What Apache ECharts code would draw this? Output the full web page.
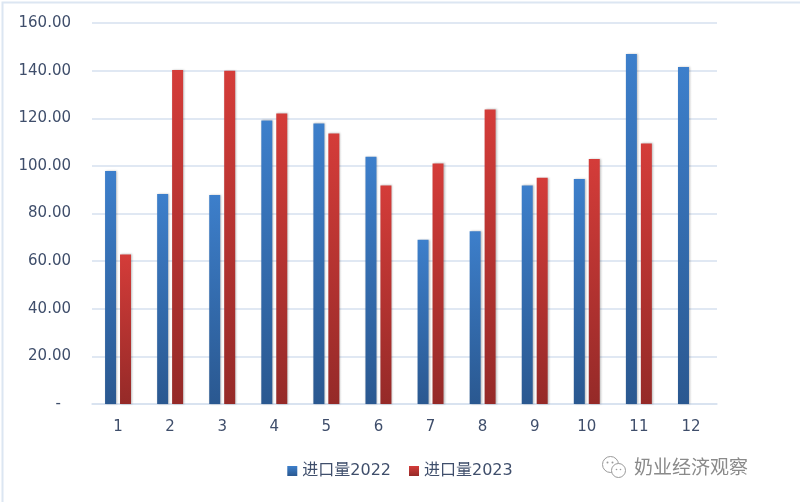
<!DOCTYPE html>
<html>
<head>
<meta charset="utf-8">
<script src="https://cdn.jsdelivr.net/npm/echarts@6/dist/echarts.min.js"></script>
<style>
  html, body { margin: 0; padding: 0; background: #fff; }
  #chart { width: 800px; height: 502px; }
</style>
</head>
<body>
<div id="chart"></div>
<script>
// 月份
var months = ['1', '2', '3', '4', '5', '6', '7', '8', '9', '10', '11', '12']
// 进口量
var import2022 = [97.8, 88.2, 87.8, 119.1, 117.8, 103.8, 69.0, 72.5, 91.8, 94.5, 147.0, 141.5]
var import2023 = [62.8, 140.3, 139.9, 122.0, 113.6, 91.8, 101.0, 123.7, 95.0, 102.9, 109.4, null]
var seriesNames = ['进口量2022', '进口量2023']

var labelColor = '#3F4E6B'
var splitLineColor = '#D6E1EF'
var numFont = 'DejaVu Sans'

function barGradient(top, bottom) {
  return new echarts.graphic.LinearGradient(0, 0, 0, 1, [
    { offset: 0, color: top },
    { offset: 1, color: bottom }
  ])
}

var myChart = echarts.init(document.getElementById('chart'), null, { renderer: 'canvas' })

var option = {
  backgroundColor: '#fff',
  animation: false,
  grid: {
    left: 92,
    right: 83,
    top: 23,
    bottom: 98
  },
  legend: {
    left: 'center',
    top: 458,
    icon: 'rect',
    itemWidth: 10,
    itemHeight: 10,
    itemGap: 18,
    textStyle: {
      color: labelColor,
      fontSize: 16,
      fontFamily: 'DejaVu Sans, Noto Sans CJK SC'
    },
    data: seriesNames
  },
  xAxis: {
    type: 'category',
    data: months,
    axisTick: { show: false },
    axisLine: { lineStyle: { color: splitLineColor, width: 1.5 } },
    axisLabel: {
      color: labelColor,
      fontSize: 15,
      fontFamily: numFont,
      margin: 16
    }
  },
  yAxis: {
    type: 'value',
    min: 0,
    max: 160,
    interval: 20,
    axisLine: { show: false },
    axisTick: { show: false },
    splitLine: { lineStyle: { color: splitLineColor, width: 1.5 } },
    axisLabel: {
      color: labelColor,
      fontSize: 15,
      fontFamily: numFont,
      margin: 21,
      formatter: function (v) {
        if (v === 0) return '{dash|-}'
        return v.toFixed(2)
      },
      rich: {
        dash: { padding: [0, 10, 0, 0], color: labelColor, fontSize: 15, fontFamily: numFont }
      }
    }
  },
  series: [
    {
      name: seriesNames[0],
      type: 'bar',
      barWidth: 11,
      barGap: '36%',
      itemStyle: {
        color: barGradient('#3D7FCB', '#2A5890'),
        shadowBlur: 2,
        shadowColor: 'rgba(0,0,0,0.25)',
        shadowOffsetX: 1,
        shadowOffsetY: 0
      },
      data: import2022
    },
    {
      name: seriesNames[1],
      type: 'bar',
      barWidth: 11,
      itemStyle: {
        color: barGradient('#D43C39', '#952A28'),
        shadowBlur: 2,
        shadowColor: 'rgba(0,0,0,0.25)',
        shadowOffsetX: 1,
        shadowOffsetY: 0
      },
      data: import2023
    }
  ],
  graphic: [
    {
      type: 'rect',
      left: 0,
      top: 0,
      silent: true,
      shape: { width: 799, height: 501 },
      style: { fill: 'none', stroke: '#DCE6F2', lineWidth: 2 }
    },
    // 水印图标
    {
      type: 'group',
      left: 602,
      top: 456,
      children: [
        { type: 'circle', shape: { cx: 9, cy: 9, r: 8 }, style: { fill: '#fff', stroke: '#9A9A9A', lineWidth: 1 } },
        { type: 'circle', shape: { cx: 17, cy: 15, r: 7 }, style: { fill: '#fff', stroke: '#9A9A9A', lineWidth: 1 } },
        { type: 'circle', shape: { cx: 6, cy: 7, r: 1 }, style: { fill: '#9A9A9A' } },
        { type: 'circle', shape: { cx: 11, cy: 7, r: 1 }, style: { fill: '#9A9A9A' } },
        { type: 'circle', shape: { cx: 15, cy: 14, r: 0.8 }, style: { fill: '#9A9A9A' } },
        { type: 'circle', shape: { cx: 19, cy: 14, r: 0.8 }, style: { fill: '#9A9A9A' } }
      ]
    },
    {
      type: 'text',
      left: 634,
      top: 457,
      style: {
        text: '奶业经济观察',
        fill: '#8A8A8A',
        font: '19px "Noto Sans CJK SC"'
      }
    }
  ]
}

myChart.setOption(option)
</script>
</body>
</html>
